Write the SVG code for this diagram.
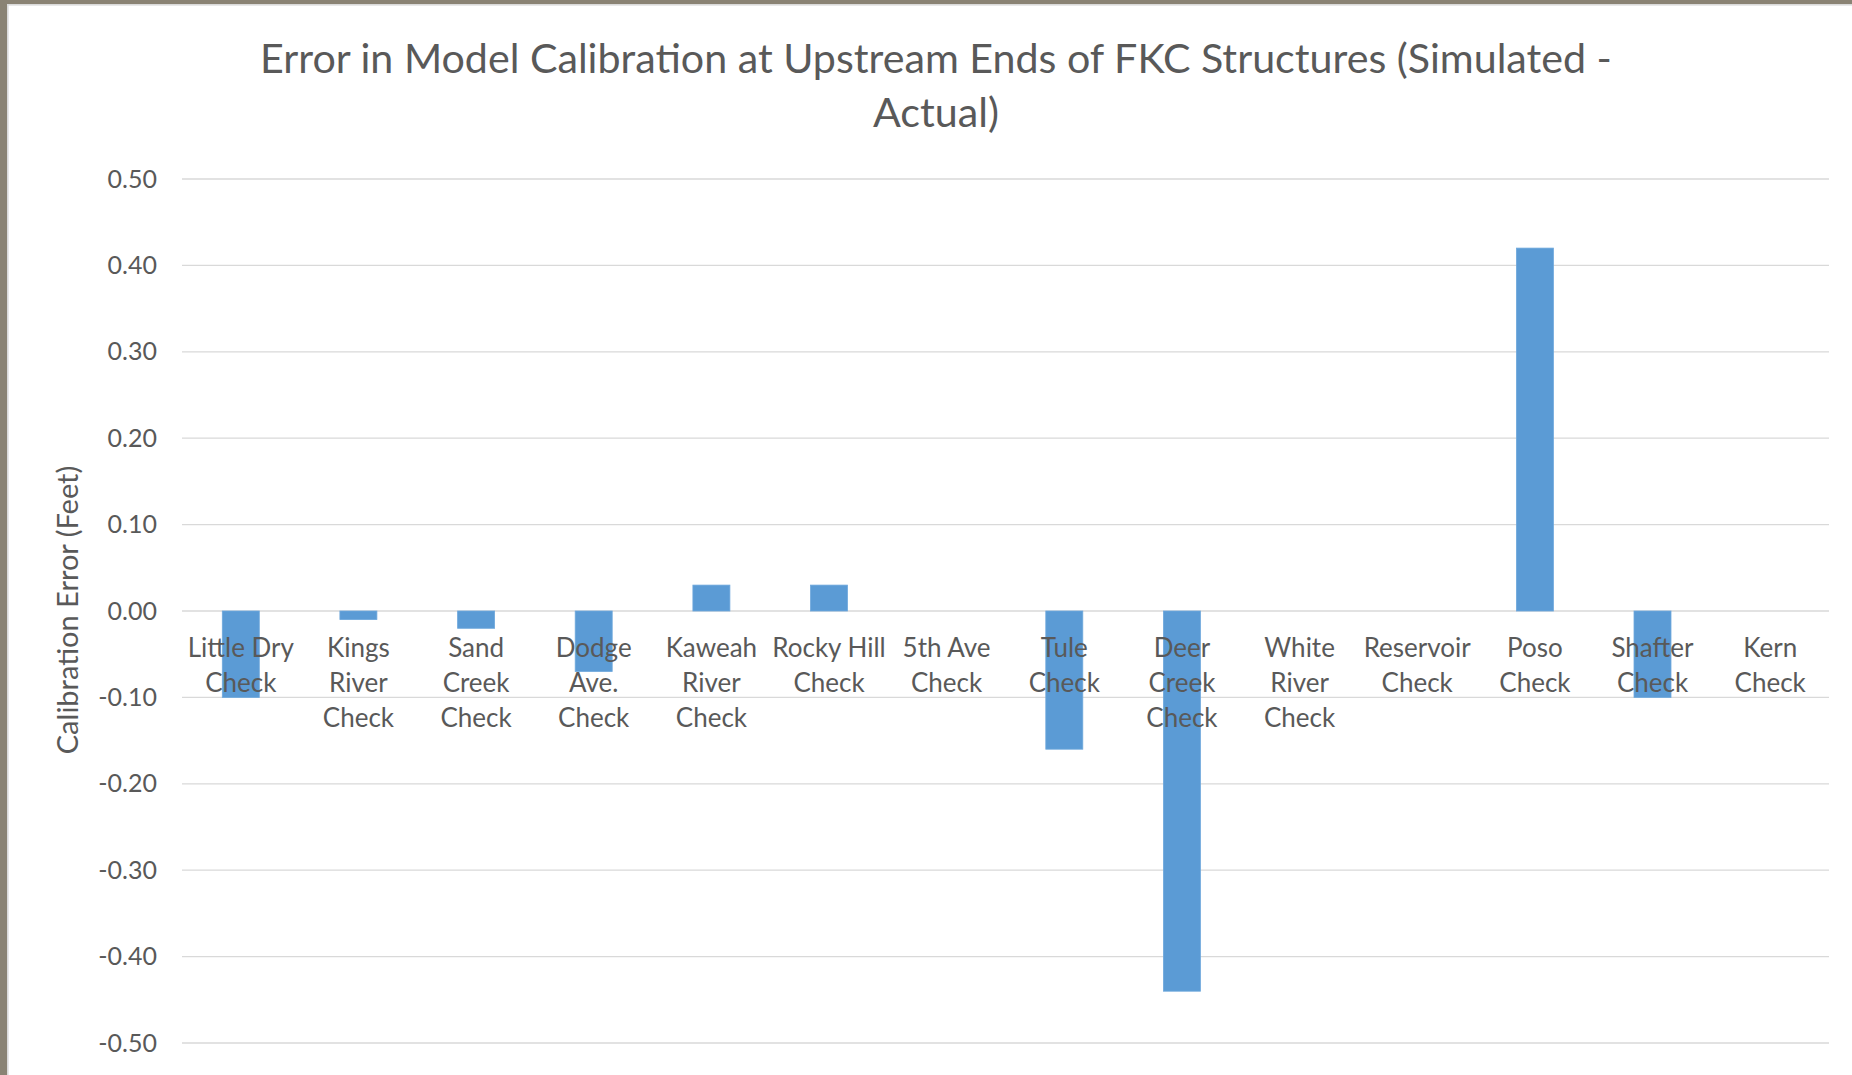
<svg xmlns="http://www.w3.org/2000/svg" width="1852" height="1075" viewBox="0 0 1852 1075">
  <style>
    .txt { font-family: Lato, "Open Sans", sans-serif; fill: #595959; }
    .title { font-size: 41.2px; text-anchor: middle; }
    .tick { font-size: 25px; text-anchor: end; }
    .cat { font-size: 26px; text-anchor: middle; }
    .axis-title { font-size: 29px; text-anchor: middle; }
    .grid line { stroke: #D9D9D9; stroke-width: 1.3; }
    .bar { fill: #5B9BD5; stroke: #6FA8DC; stroke-width: 0.8; }
  </style>

  <!-- page background and frame -->
  <rect x="0" y="0" width="1852" height="1075" fill="#FFFFFF"/>
  <rect x="0" y="0" width="1852" height="4" fill="#8A8374"/>
  <rect x="0" y="0" width="7" height="1075" fill="#8A8374"/>
  <rect x="7" y="4" width="1845" height="1.6" fill="#DADADA"/>
  <rect x="7" y="4" width="1.6" height="1071" fill="#DADADA"/>

  <!-- chart title -->
  <g id="title" class="txt title">
    <text x="936" y="73">Error in Model Calibration at Upstream Ends of FKC Structures (Simulated -</text>
    <text x="936" y="127">Actual)</text>
  </g>

  <!-- horizontal gridlines, value axis 0.50 .. -0.50 -->
  <g id="gridlines" class="grid">
    <line x1="182" y1="179" x2="1829" y2="179"/>
    <line x1="182" y1="265.4" x2="1829" y2="265.4"/>
    <line x1="182" y1="351.8" x2="1829" y2="351.8"/>
    <line x1="182" y1="438.2" x2="1829" y2="438.2"/>
    <line x1="182" y1="524.6" x2="1829" y2="524.6"/>
    <line x1="182" y1="611" x2="1829" y2="611"/>
    <line x1="182" y1="697.4" x2="1829" y2="697.4"/>
    <line x1="182" y1="783.8" x2="1829" y2="783.8"/>
    <line x1="182" y1="870.2" x2="1829" y2="870.2"/>
    <line x1="182" y1="956.6" x2="1829" y2="956.6"/>
    <line x1="182" y1="1043" x2="1829" y2="1043"/>
  </g>

  <!-- value axis labels -->
  <g id="value-axis" class="txt tick">
    <text x="157" y="187.5">0.50</text>
    <text x="157" y="273.9">0.40</text>
    <text x="157" y="360.3">0.30</text>
    <text x="157" y="446.7">0.20</text>
    <text x="157" y="533.1">0.10</text>
    <text x="157" y="619.5">0.00</text>
    <text x="157" y="705.9">-0.10</text>
    <text x="157" y="792.3">-0.20</text>
    <text x="157" y="878.7">-0.30</text>
    <text x="157" y="965.1">-0.40</text>
    <text x="157" y="1051.5">-0.50</text>
  </g>

  <g id="value-axis-title" class="txt axis-title">
    <text transform="translate(78,610) rotate(-90)">Calibration Error (Feet)</text>
  </g>

  <!-- data series: one bar per structure, zero line at y=611, 864 px per foot -->
  <g id="series">
    <rect id="bar-little-dry" class="bar" x="222.3" y="611" width="37" height="86.4"/>
    <rect id="bar-kings-river" class="bar" x="339.9" y="611" width="37" height="8.6"/>
    <rect id="bar-sand-creek" class="bar" x="457.6" y="611" width="37" height="17.3"/>
    <rect id="bar-dodge-ave" class="bar" x="575.2" y="611" width="37" height="60.5"/>
    <rect id="bar-kaweah-river" class="bar" x="692.9" y="585.1" width="37" height="25.9"/>
    <rect id="bar-rocky-hill" class="bar" x="810.5" y="585.1" width="37" height="25.9"/>
    <rect id="bar-tule" class="bar" x="1045.8" y="611" width="37" height="138.2"/>
    <rect id="bar-deer-creek" class="bar" x="1163.4" y="611" width="37" height="380.2"/>
    <rect id="bar-poso" class="bar" x="1516.4" y="248.1" width="37" height="362.9"/>
    <rect id="bar-shafter" class="bar" x="1634" y="611" width="37" height="86.4"/>
  </g>

  <!-- category axis labels -->
  <g id="category-axis" class="txt cat">
    <g id="cat-little-dry"><text x="240.8" y="657">Little Dry</text><text x="240.8" y="692">Check</text></g>
    <g id="cat-kings-river"><text x="358.4" y="657">Kings</text><text x="358.4" y="692">River</text><text x="358.4" y="727">Check</text></g>
    <g id="cat-sand-creek"><text x="476.1" y="657">Sand</text><text x="476.1" y="692">Creek</text><text x="476.1" y="727">Check</text></g>
    <g id="cat-dodge-ave"><text x="593.7" y="657">Dodge</text><text x="593.7" y="692">Ave.</text><text x="593.7" y="727">Check</text></g>
    <g id="cat-kaweah-river"><text x="711.4" y="657">Kaweah</text><text x="711.4" y="692">River</text><text x="711.4" y="727">Check</text></g>
    <g id="cat-rocky-hill"><text x="829" y="657">Rocky Hill</text><text x="829" y="692">Check</text></g>
    <g id="cat-5th-ave"><text x="946.6" y="657">5th Ave</text><text x="946.6" y="692">Check</text></g>
    <g id="cat-tule"><text x="1064.3" y="657">Tule</text><text x="1064.3" y="692">Check</text></g>
    <g id="cat-deer-creek"><text x="1181.9" y="657">Deer</text><text x="1181.9" y="692">Creek</text><text x="1181.9" y="727">Check</text></g>
    <g id="cat-white-river"><text x="1299.6" y="657">White</text><text x="1299.6" y="692">River</text><text x="1299.6" y="727">Check</text></g>
    <g id="cat-reservoir"><text x="1417.2" y="657">Reservoir</text><text x="1417.2" y="692">Check</text></g>
    <g id="cat-poso"><text x="1534.9" y="657">Poso</text><text x="1534.9" y="692">Check</text></g>
    <g id="cat-shafter"><text x="1652.5" y="657">Shafter</text><text x="1652.5" y="692">Check</text></g>
    <g id="cat-kern"><text x="1770.2" y="657">Kern</text><text x="1770.2" y="692">Check</text></g>
  </g>
</svg>
